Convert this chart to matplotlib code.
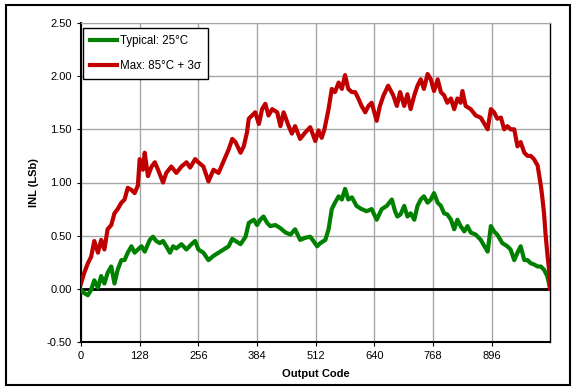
import matplotlib.pyplot as plt
from matplotlib.patches import Rectangle

plt.rcParams['font.family'] = ['Liberation Sans', 'DejaVu Sans']

# values
code_typ = [0, 7, 15, 22, 29, 37, 44, 51, 58, 66, 73, 80, 88, 95, 102, 110, 117, 124, 132, 139,
            150, 157, 164, 172, 179, 186, 194, 201, 208, 219, 230, 241, 249, 256, 267, 278, 289,
            300, 311, 322, 330, 337, 348, 359, 366, 377, 384, 391, 398, 406, 413, 424, 435, 446,
            457, 467, 478, 489, 500, 507, 515, 522, 533, 540, 547, 554, 562, 569, 576, 583, 591,
            601, 612, 623, 634, 645, 656, 667, 678, 685, 690, 697, 705, 712, 719, 727, 734, 741,
            748, 756, 763, 770, 778, 785, 792, 799, 807, 814, 821, 828, 836, 843, 850, 861, 872,
            880, 887, 894, 901, 908, 919, 930, 937, 945, 952, 959, 967, 974, 981, 988, 996, 1003,
            1010, 1017, 1023]
inl_typ = [-0.01, -0.04, -0.06, -0.01, 0.08, 0.01, 0.12, 0.05, 0.15, 0.21, 0.05, 0.18, 0.27, 0.27,
           0.34, 0.40, 0.34, 0.37, 0.40, 0.35, 0.46, 0.49, 0.45, 0.43, 0.45, 0.40, 0.34, 0.40, 0.38,
           0.42, 0.37, 0.42, 0.45, 0.37, 0.34, 0.27, 0.31, 0.34, 0.37, 0.40, 0.47, 0.45, 0.42, 0.49,
           0.62, 0.65, 0.60, 0.65, 0.68, 0.62, 0.59, 0.60, 0.57, 0.53, 0.51, 0.56, 0.46, 0.48, 0.49,
           0.45, 0.40, 0.43, 0.46, 0.56, 0.75, 0.81, 0.87, 0.84, 0.94, 0.84, 0.86, 0.78, 0.75, 0.73,
           0.75, 0.65, 0.75, 0.78, 0.84, 0.73, 0.68, 0.70, 0.78, 0.68, 0.71, 0.65, 0.78, 0.84, 0.87,
           0.81, 0.84, 0.90, 0.81, 0.78, 0.71, 0.70, 0.65, 0.56, 0.65, 0.59, 0.54, 0.59, 0.53, 0.51,
           0.46, 0.40, 0.35, 0.59, 0.54, 0.51, 0.43, 0.40, 0.37, 0.27, 0.34, 0.40, 0.27, 0.27, 0.24,
           0.23, 0.21, 0.21, 0.18, 0.12, 0.01]

code_max = [0, 7, 15, 22, 29, 37, 44, 51, 58, 66, 73, 80, 88, 95, 102, 110, 117, 124, 128, 135,
            139, 146, 154, 161, 168, 179, 186, 197, 208, 219, 230, 238, 249, 256, 267, 278, 289,
            300, 311, 322, 330, 337, 348, 355, 362, 366, 373, 380, 388, 395, 402, 409, 417, 428,
            435, 442, 453, 460, 467, 478, 489, 500, 511, 518, 525, 531, 540, 547, 554, 562, 569,
            576, 583, 591, 598, 605, 612, 620, 627, 634, 645, 652, 660, 670, 681, 689, 696, 705,
            712, 719, 727, 734, 741, 748, 756, 763, 770, 778, 785, 792, 799, 807, 814, 821, 828,
            832, 839, 850, 861, 872, 883, 887, 894, 901, 908, 916, 923, 930, 937, 945, 952, 959,
            967, 974, 981, 988, 996, 999, 1003, 1006, 1010, 1013, 1017, 1021, 1023]
inl_max = [0.05, 0.15, 0.24, 0.30, 0.45, 0.34, 0.46, 0.37, 0.56, 0.60, 0.71, 0.75, 0.81, 0.84,
           0.95, 0.93, 0.90, 0.97, 1.22, 1.12, 1.28, 1.06, 1.15, 1.19, 1.12, 1.00, 1.09, 1.15,
           1.09, 1.15, 1.19, 1.14, 1.22, 1.19, 1.15, 1.01, 1.12, 1.09, 1.20, 1.31, 1.41, 1.38,
           1.28, 1.34, 1.47, 1.60, 1.63, 1.66, 1.55, 1.69, 1.74, 1.63, 1.69, 1.66, 1.53, 1.66,
           1.53, 1.46, 1.53, 1.41, 1.47, 1.52, 1.39, 1.49, 1.42, 1.50, 1.69, 1.88, 1.85, 1.94,
           1.88, 2.01, 1.88, 1.85, 1.85, 1.79, 1.72, 1.66, 1.72, 1.75, 1.58, 1.72, 1.82, 1.91,
           1.82, 1.72, 1.85, 1.72, 1.83, 1.69, 1.82, 1.91, 1.97, 1.88, 2.02, 1.97, 1.86, 1.97,
           1.85, 1.82, 1.75, 1.79, 1.69, 1.79, 1.75, 1.86, 1.72, 1.69, 1.63, 1.61, 1.53, 1.50,
           1.69, 1.66, 1.60, 1.61, 1.50, 1.53, 1.50, 1.50, 1.34, 1.38, 1.28, 1.25, 1.25, 1.22,
           1.16, 1.08, 0.97, 0.87, 0.71, 0.53, 0.34, 0.18, 0.0]

xticks = [0, 128, 256, 384, 512, 640, 768, 896]
yticks = [-0.5, 0.0, 0.5, 1.0, 1.5, 2.0, 2.5]

fig = plt.figure(figsize=(5.76, 3.89), dpi=100)
ax = fig.add_axes([81 / 576, 1 - 342 / 389, 469 / 576, 319 / 389])

ax.plot(code_typ, inl_typ, color='#008000', lw=3.0, label='Typical: 25°C', zorder=3)
ax.plot(code_max, inl_max, color='#C00000', lw=3.0, label='Max: 85°C + 3σ', zorder=3)

ax.set_xlim(0, 1023)
ax.set_ylim(-0.5, 2.5)
ax.set_xticks(xticks)
ax.set_yticks(yticks)
ax.set_yticklabels([f'{v:.2f}' for v in yticks])
ax.grid(True, color='#a6a6a6', lw=1.0)
ax.set_axisbelow(True)
ax.axhline(0, color='black', lw=2, zorder=2)
ax.tick_params(direction='out', length=3, labelsize=8, colors='black')

ax.spines['left'].set_linewidth(1.5)
ax.spines['bottom'].set_linewidth(1.5)
ax.spines['right'].set_linewidth(1.0)
ax.spines['top'].set_color('#a6a6a6')

ax.set_xlabel('Output Code', fontsize=8, fontweight='bold', labelpad=6)
ax.set_ylabel('INL (LSb)', fontsize=8, fontweight='bold', labelpad=6)

leg = ax.legend(loc='upper left', bbox_to_anchor=(0.004, 0.984), borderaxespad=0,
                fontsize=8.3, fancybox=False, framealpha=1, edgecolor='black',
                handlelength=2.4, handletextpad=0.2, labelspacing=1.1, borderpad=0.6)
leg.get_frame().set_linewidth(1.0)

fig.patches.append(Rectangle((6 / 576, 4 / 389), 564 / 576, 380 / 389, transform=fig.transFigure,
                             fill=False, edgecolor='black', lw=1.5))

fig.savefig('out.png', dpi=100)
